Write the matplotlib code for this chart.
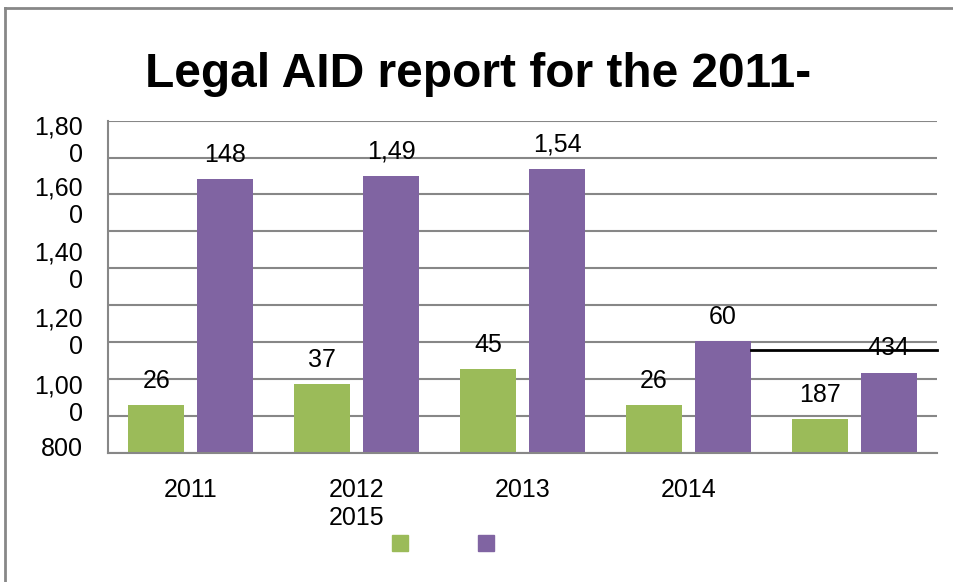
#Grouped bar chart: Legal AID report 2011-2015
#Two unnamed series (green / purple) with data labels over each bar

import numpy as np
import matplotlib.pyplot as plt
from matplotlib.patches import Patch
from matplotlib.lines import Line2D

plt.rcParams['font.family'] = ['Liberation Sans', 'DejaVu Sans']

green = '#9BBB59'
purple = '#8064A2'
grey = '#878787'

#Data
categories = ['2011', '2012\n2015', '2013', '2014', '']
green_vals = [944, 1008, 1053, 944, 902]
purple_vals = [1624, 1634, 1655, 1137, 1042]
green_labels = ['26', '37', '45', '26', '187']
purple_labels = ['148', '1,49', '1,54', '60', '434']

#Axis labels (wrapped like in the original) and gridlines
ytick_pos = [1751, 1567, 1372, 1173, 972, 821]
ytick_labels = ['1,80\n0', '1,60\n0', '1,40\n0', '1,20\n0', '1,00\n0', '800']
grid_vals = [800, 911, 1022, 1133, 1244, 1356, 1467, 1578, 1689, 1800]
stray_y = 1110

fig = plt.figure(figsize=(9.54, 5.82), dpi=100)
ax = fig.add_axes([0.1132, 0.2216, 0.8690, 0.5710])

x = np.arange(len(categories))
w = 0.338
off = 0.208

ax.bar(x - off, green_vals, w, color=green, zorder=2)
ax.bar(x + off, purple_vals, w, color=purple, zorder=2)

for i in range(len(categories)):
    ax.annotate(green_labels[i], (x[i] - off, green_vals[i]), xytext=(0, 12.5),
                textcoords='offset points', ha='center', va='baseline', fontsize=18)
    ax.annotate(purple_labels[i], (x[i] + off, purple_vals[i]), xytext=(0, 12.5),
                textcoords='offset points', ha='center', va='baseline', fontsize=18)

ax.set_xlim(-0.5, 4.5)
ax.set_ylim(800, 1800)

#gridlines on minor ticks, labels on major ticks
ax.set_yticks(grid_vals, minor=True)
ax.yaxis.grid(True, which='minor', color=grey, lw=1.5, zorder=0)
ax.set_yticks(ytick_pos)
ax.set_yticklabels(ytick_labels)
ax.set_xticks(x)
ax.set_xticklabels(categories)
ax.tick_params(axis='y', which='both', length=0, pad=18, labelsize=18)
ax.tick_params(axis='x', which='both', length=0, pad=18, labelsize=18)
ax.set_axisbelow(True)

for s in ['top', 'right']:
    ax.spines[s].set_visible(False)
for s in ['left', 'bottom']:
    ax.spines[s].set_color(grey)
    ax.spines[s].set_linewidth(1.5)

#stray connector line from the 2014 purple bar
ax.plot([3 + off + w / 2, 4.5], [stray_y, stray_y], color='black', lw=2, clip_on=False, zorder=3)

#Title
fig.text(0.5016, 1 - 87 / 582, 'Legal AID report for the 2011-', ha='center', va='baseline',
         fontsize=34.5, fontweight='bold')

#Legend with unnamed series
fig.legend(handles=[Patch(color=green), Patch(color=purple)], labels=['', ''], ncol=2,
           loc='center', bbox_to_anchor=(443 / 954, 1 - 545 / 582), frameon=False,
           handlelength=0.64, handleheight=0.64, handletextpad=0, columnspacing=2.8, fontsize=18)

#chart area border (left and top edges visible)
fig.add_artist(Line2D([5 / 954, 5 / 954], [0, 1 - 8 / 582], transform=fig.transFigure, color=grey, lw=2))
fig.add_artist(Line2D([5 / 954, 1], [1 - 8 / 582, 1 - 8 / 582], transform=fig.transFigure, color=grey, lw=2))

plt.savefig('out.png', dpi=100)
